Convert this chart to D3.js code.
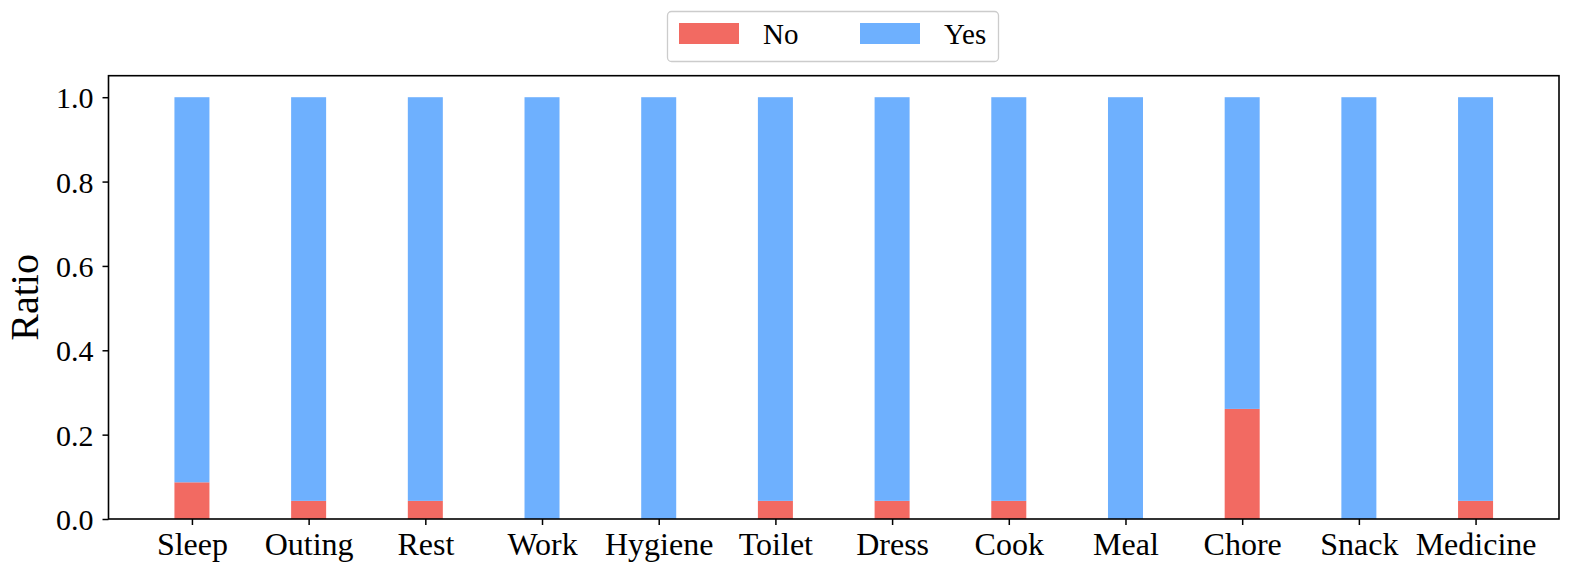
<!DOCTYPE html>
<html><head><meta charset="utf-8">
<script src="https://cdn.jsdelivr.net/npm/d3@7"></script>
<style>body{margin:0;background:#fff}svg{display:block}text{font-family:"Liberation Serif","Times New Roman",serif;fill:#000}</style>
</head><body><svg id="c" width="1570" height="572"></svg>
<script>
const categories = ["Sleep","Outing","Rest","Work","Hygiene","Toilet","Dress","Cook","Meal","Chore","Snack","Medicine"];
const noValues = [0.087,0.043,0.043,0,0,0.043,0.043,0.043,0,0.261,0,0.043];
const yesValues = noValues.map(v => 1 - v);
const yTicks = [0,0.2,0.4,0.6,0.8,1.0];
const seriesNames = ["No","Yes"];
const colors = ["#f26a62","#6eb0fe"];

const svg = d3.select("#c");
const L = 108.5, R = 1559, T = 75.7, B = 519;
const x = d3.scaleLinear().domain([-0.715, 11.715]).range([L, R]);
const y = d3.scaleLinear().domain([0, 1.051]).range([B, T]);
const bw = 0.3;

const g = svg.append("g");
categories.forEach((c, i) => {
  g.append("rect").attr("x", x(i - bw/2)).attr("width", x(bw) - x(0))
    .attr("y", y(noValues[i])).attr("height", y(0) - y(noValues[i])).attr("fill", colors[0]);
  g.append("rect").attr("x", x(i - bw/2)).attr("width", x(bw) - x(0))
    .attr("y", y(noValues[i] + yesValues[i])).attr("height", y(noValues[i]) - y(noValues[i] + yesValues[i])).attr("fill", colors[1]);
});

const xa = svg.append("g").attr("transform", `translate(0,${B})`)
  .call(d3.axisBottom(x).tickValues(d3.range(categories.length)).tickFormat(i => categories[i]).tickSize(6).tickPadding(8));
const ya = svg.append("g").attr("transform", `translate(${L},0)`)
  .call(d3.axisLeft(y).tickValues(yTicks).tickFormat(d3.format(".1f")).tickSize(6).tickPadding(9));
[xa, ya].forEach(a => {
  a.select(".domain").remove();
  a.selectAll("line").attr("stroke", "#000").attr("stroke-width", 1.5);
  a.selectAll("text").attr("fill", "#000");
});
xa.selectAll("text").style("font-size", "32px").attr("dy", "0.68em");
ya.selectAll("text").style("font-size", "30px").attr("dy", "0.35em");

svg.append("rect").attr("x", L).attr("y", T).attr("width", R - L).attr("height", B - T)
  .attr("fill", "none").attr("stroke", "#000").attr("stroke-width", 1.6);

svg.append("text").attr("transform", `translate(38,${(T+B)/2}) rotate(-90)`)
  .attr("text-anchor", "middle").style("font-size", "40px").text("Ratio");

// legend
const lg = svg.append("g");
lg.append("rect").attr("x", 667.5).attr("y", 11.5).attr("width", 331).attr("height", 50)
  .attr("rx", 4).attr("fill", "#fff").attr("stroke", "#cccccc").attr("stroke-width", 1.3);
const lx = [679, 860], tx = [763, 944];
seriesNames.forEach((s, i) => {
  lg.append("rect").attr("x", lx[i]).attr("y", 23).attr("width", 60).attr("height", 21).attr("fill", colors[i]);
  lg.append("text").attr("x", tx[i]).attr("y", 44).style("font-size", "29px").text(s);
});
</script></body></html>
